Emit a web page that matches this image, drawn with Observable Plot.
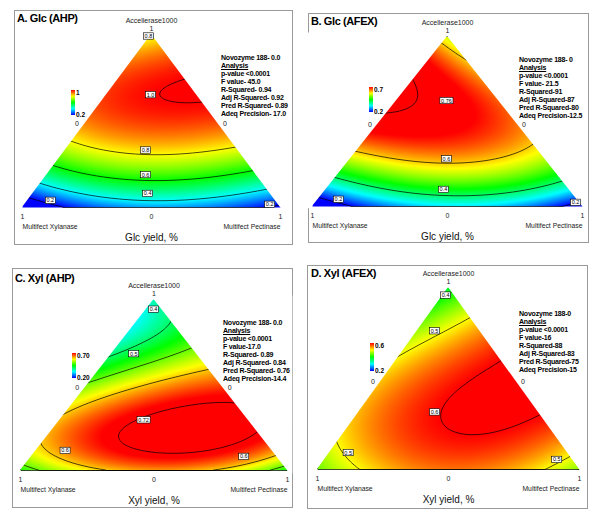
<!DOCTYPE html>
<html><head><meta charset="utf-8">
<script src="https://cdn.jsdelivr.net/npm/d3@7"></script>
<script src="https://cdn.jsdelivr.net/npm/@observablehq/plot@0.6"></script>
<style>
body{margin:0;background:#fff;font-family:"Liberation Sans",Arial,sans-serif;color:#000;}
#root{position:relative;width:600px;height:521px;overflow:hidden;background:#fff;}
.panel{position:absolute;box-sizing:border-box;border:1px solid #9a9a9a;}
.panel svg{position:absolute;left:0;top:0;}
.title{position:absolute;font-weight:bold;font-size:11px;letter-spacing:-0.4px;white-space:nowrap;}
.stats{position:absolute;font-weight:bold;font-size:7px;line-height:8px;letter-spacing:-0.2px;white-space:nowrap;}
.stats .u{text-decoration:underline;}
.cbar{position:absolute;width:4px;background:linear-gradient(to top,#0000ff,#00ffff,#00ff00,#ffff00,#ff0000);}
.clab{position:absolute;font-weight:bold;font-size:6.5px;line-height:7px;white-space:nowrap;}
</style></head><body><div id="root"></div>
<script>
// ---------- data ----------
const componentNames = ["Accellerase1000", "Multifect Xylanase", "Multifect Pectinase"];
const panelTitles = ["A. Glc (AHP)", "B. Glc (AFEX)", "C. Xyl (AHP)", "D. Xyl (AFEX)"];
const axisTitles = ["Glc yield, %", "Glc yield, %", "Xyl yield, %", "Xyl yield, %"];

// simplex-lattice design points (Accellerase, Xylanase, Pectinase), Novozyme 188 = 0
const accel  = [1, 0, 0, 2/3, 1/3, 2/3, 1/3, 0,   0,   1/3];
const xylan  = [0, 1, 0, 1/3, 2/3, 0,   0,   2/3, 1/3, 1/3];
const pectin = [0, 0, 1, 0,   0,   1/3, 2/3, 1/3, 2/3, 1/3];

// response read at those points
const glcAHP  = [0.78, 0.05, 0.17, 0.96, 0.74, 1.009, 0.78, 0.29, 0.31, 0.83];
const glcAFEX = [0.55, 0.10, 0.15, 0.776, 0.61, 0.65, 0.58, 0.28, 0.30, 0.655];
const xylAHP  = [0.37, 0.46, 0.45, 0.40, 0.60, 0.54, 0.735, 0.60, 0.61, 0.72];
const xylAFEX = [0.38, 0.44, 0.45, 0.49, 0.53, 0.58, 0.607, 0.54, 0.545, 0.603];

const levelsGlcAHP  = [0.2, 0.4, 0.6, 0.8, 1.0];
const levelsGlcAFEX = [0.2, 0.4, 0.6, 0.76];
const levelsXylAHP  = [0.4, 0.5, 0.6, 0.72];
const levelsXylAFEX = [0.4, 0.5, 0.6];

const colorLimitsGlcAHP  = [0.2, 1.0];
const colorLimitsGlcAFEX = [0.2, 0.7];
const colorLimitsXylAHP  = [0.2, 0.7];
const colorLimitsXylAFEX = [0.2, 0.6];

const colorTicksGlcAHP  = ["1", "0.2"];
const colorTicksGlcAFEX = ["0.7", "0.2"];
const colorTicksXylAHP  = ["0.70", "0.20"];
const colorTicksXylAFEX = ["0.6", "0.2"];

// contour label anchors: [horizontal position, Accellerase fraction, text]
const labelsGlcAHP  = [[0.488, 0.99, "0.8"], [0.496, 0.651, "1.0"], [0.477, 0.331, "0.8"], [0.477, 0.189, "0.6"], [0.485, 0.08, "0.4"], [0.108, 0.04, "0.2"], [0.958, 0.017, "0.2"]];
const labelsGlcAFEX = [[0.496, 0.622, "0.76"], [0.496, 0.279, "0.6"], [0.485, 0.099, "0.4"], [0.096, 0.041, "0.2"], [0.974, 0.023, "0.2"]];
const labelsXylAHP  = [[0.498, 0.942, "0.4"], [0.424, 0.682, "0.5"], [0.461, 0.295, "0.72"], [0.167, 0.116, "0.6"], [0.836, 0.081, "0.6"]];
const labelsXylAFEX = [[0.489, 0.957, "0.4"], [0.447, 0.761, "0.5"], [0.447, 0.315, "0.6"], [0.117, 0.092, "0.5"], [0.913, 0.054, "0.5"]];

const statsGlcAHP  = ["Novozyme 188- 0.0", "Analysis", "p-value <0.0001", "F value- 45.0", "R-Squared- 0.94", "Adj R-Squared- 0.92", "Pred R-Squared- 0.89", "Adeq Precision- 17.0"];
const statsGlcAFEX = ["Novozyme 188- 0", "Analysis", "p-value <0.0001", "F value- 21.5", "R-Squared-91", "Adj R-Squared-87", "Pred R-Squared-80", "Adeq Precision-12.5"];
const statsXylAHP  = ["Novozyme 188- 0.0", "Analysis", "p-value <0.0001", "F value-17.0", "R-Squared- 0.89", "Adj R-Squared- 0.84", "Pred R-Squared- 0.76", "Adeq Precision-14.4"];
const statsXylAFEX = ["Novozyme 188-0", "Analysis", "p-value <0.0001", "F value-16", "R-Squared-88", "Adj R-Squared-83", "Pred R-Squared-75", "Adeq Precision-15"];

const rainbow = ["#0000ff", "#00ffff", "#00ff00", "#ffff00", "#ff0000"];

// ---------- layout ----------
const panels = [
  {values: glcAHP, levels: levelsGlcAHP, lim: colorLimitsGlcAHP, ticks: colorTicksGlcAHP, labels: labelsGlcAHP, stats: statsGlcAHP,
   box: [14, 10, 279, 235], m: [23, 12, 37, 7], title: [2, 1], st: [206, 43], cb: [56, 79, 25]},
  {values: glcAFEX, levels: levelsGlcAFEX, lim: colorLimitsGlcAFEX, ticks: colorTicksGlcAFEX, labels: labelsGlcAFEX, stats: statsGlcAFEX,
   box: [308, 13, 281, 230], m: [22, 6, 36, 3], title: [2, 1], st: [210, 42], cb: [60, 73, 25]},
  {values: xylAHP, levels: levelsXylAHP, lim: colorLimitsXylAHP, ticks: colorTicksXylAHP, labels: labelsXylAHP, stats: statsXylAHP,
   box: [12, 268, 281, 240], m: [30, 5, 37, 7], title: [2, 3], st: [210, 50], cb: [59, 84, 25]},
  {values: xylAFEX, levels: levelsXylAFEX, lim: colorLimitsXylAFEX, ticks: colorTicksXylAFEX, labels: labelsXylAFEX, stats: statsXylAFEX,
   box: [307, 265, 281, 244], m: [21, 8, 39, 9], title: [3, 1], st: [211, 44], cb: [62, 77, 28]}
];

// cubic simplex-lattice (Lagrange) surface through the design points
function surface(values) {
  const nodes = accel.map((a, i) => [Math.round(a * 3), Math.round(xylan[i] * 3), Math.round(pectin[i] * 3)]);
  return (X, Y) => {
    const a = Y, p = X - Y / 2, x = 1 - a - p;
    const lam = [a, x, p];
    let s = 0;
    for (let i = 0; i < nodes.length; i++) {
      let phi = 1;
      for (let c = 0; c < 3; c++) for (let k = 0; k < nodes[i][c]; k++) phi *= (3 * lam[c] - k) / (k + 1);
      s += phi * values[i];
    }
    return s;
  };
}

const root = document.getElementById("root");
const maskLeft = [{X: -0.02, lo: -0.02, hi: 1.02}, {X: 0, lo: 0, hi: 1.02}, {X: 0.5, lo: 1, hi: 1.02}];
const maskRight = [{X: 0.5, lo: 1, hi: 1.02}, {X: 1, lo: 0, hi: 1.02}, {X: 1.02, lo: -0.02, hi: 1.02}];

panels.forEach((P, i) => {
  const [L, T, W, H] = P.box;
  const div = document.createElement("div");
  div.className = "panel";
  Object.assign(div.style, {left: L + "px", top: T + "px", width: W + "px", height: H + "px"});
  root.appendChild(div);

  const f = surface(P.values);
  const labelData = P.labels.map(([X, Y, t]) => ({X, Y, t}));
  const top = [{X: 0.5, Y: 1}];
  const baseTicks = [{X: 0, Y: 0, t: "1"}, {X: 0.5, Y: 0, t: "0"}, {X: 1, Y: 0, t: "1"}];
  const font = "Liberation Sans, Arial, sans-serif";

  const svg = Plot.plot({
    width: W - 2, height: H - 2,
    marginTop: P.m[0], marginRight: P.m[1], marginBottom: P.m[2], marginLeft: P.m[3],
    x: {domain: [0, 1], axis: null},
    y: {domain: [0, 1], axis: null},
    color: {type: "linear", domain: P.lim, interpolate: d3.piecewise(d3.interpolateRgb, rainbow), clamp: true},
    style: {fontFamily: font, background: "none", overflow: "visible"},
    marks: [
      Plot.raster({x1: 0, y1: 0, x2: 1, y2: 1, fill: f, pixelSize: 1}),
      Plot.contour({x1: 0, y1: 0, x2: 1, y2: 1, value: f, thresholds: P.levels, stroke: "#000", strokeWidth: 0.7, fill: "none", pixelSize: 1}),
      Plot.areaY(maskLeft, {x: "X", y1: "lo", y2: "hi", fill: "white"}),
      Plot.areaY(maskRight, {x: "X", y1: "lo", y2: "hi", fill: "white"}),
      Plot.text(labelData, {x: "X", y: "Y", text: "t", fontSize: 5.5, fill: "#000", ariaDescription: "contour-labels"}),
      Plot.text(top, {x: "X", y: "Y", text: () => componentNames[0], fontSize: 7, dy: -14, fill: "#222"}),
      Plot.text(top, {x: "X", y: "Y", text: () => "1", fontSize: 7, dy: -6, fill: "#222"}),
      Plot.text([{X: 0.25, Y: 0.5}], {x: "X", y: "Y", text: () => "0", fontSize: 7, dx: -10, dy: 3, fill: "#222"}),
      Plot.text([{X: 0.75, Y: 0.5}], {x: "X", y: "Y", text: () => "0", fontSize: 7, dx: 9, dy: 3, fill: "#222"}),
      Plot.text(baseTicks, {x: "X", y: "Y", text: "t", fontSize: 7, dy: 9, fill: "#222"}),
      Plot.text([{X: 0, Y: 0}], {x: "X", y: "Y", text: () => componentNames[1], fontSize: 6.8, dy: 19, textAnchor: "start", fill: "#222"}),
      Plot.text([{X: 1, Y: 0}], {x: "X", y: "Y", text: () => componentNames[2], fontSize: 6.8, dy: 19, textAnchor: "end", fill: "#222"}),
      Plot.text([{X: 0.5, Y: 0}], {x: "X", y: "Y", text: () => axisTitles[i], fontSize: 10, dy: 30, fill: "#111"})
    ]
  });
  div.appendChild(svg);

  // white boxes behind contour labels
  svg.querySelectorAll('g[aria-description="contour-labels"] text').forEach(t => {
    const b = t.getBBox();
    const r = document.createElementNS("http://www.w3.org/2000/svg", "rect");
    r.setAttribute("x", b.x - 1.2); r.setAttribute("y", b.y - 0.2);
    r.setAttribute("width", b.width + 2.4); r.setAttribute("height", b.height + 0.4);
    r.setAttribute("fill", "white"); r.setAttribute("stroke", "black"); r.setAttribute("stroke-width", "0.6");
    const tr = t.getAttribute("transform"); if (tr) r.setAttribute("transform", tr);
    t.parentNode.insertBefore(r, t);
  });

  const title = document.createElement("div");
  title.className = "title";
  title.textContent = panelTitles[i];
  Object.assign(title.style, {left: P.title[0] + "px", top: P.title[1] + "px"});
  div.appendChild(title);

  const stats = document.createElement("div");
  stats.className = "stats";
  Object.assign(stats.style, {left: P.st[0] + "px", top: P.st[1] + "px"});
  P.stats.forEach((s, k) => {
    const line = document.createElement("div");
    line.textContent = s;
    if (k === 1) line.className = "u";
    stats.appendChild(line);
  });
  div.appendChild(stats);

  const cb = document.createElement("div");
  cb.className = "cbar";
  Object.assign(cb.style, {left: P.cb[0] + "px", top: P.cb[1] + "px", height: P.cb[2] + "px"});
  div.appendChild(cb);
  const hi = document.createElement("div");
  hi.className = "clab"; hi.textContent = P.ticks[0];
  Object.assign(hi.style, {left: (P.cb[0] + 5) + "px", top: (P.cb[1] - 1.5) + "px"});
  div.appendChild(hi);
  const lo = document.createElement("div");
  lo.className = "clab"; lo.textContent = P.ticks[1];
  Object.assign(lo.style, {left: (P.cb[0] + 5) + "px", top: (P.cb[1] + P.cb[2] - 4) + "px"});
  div.appendChild(lo);
});
</script></body></html>
